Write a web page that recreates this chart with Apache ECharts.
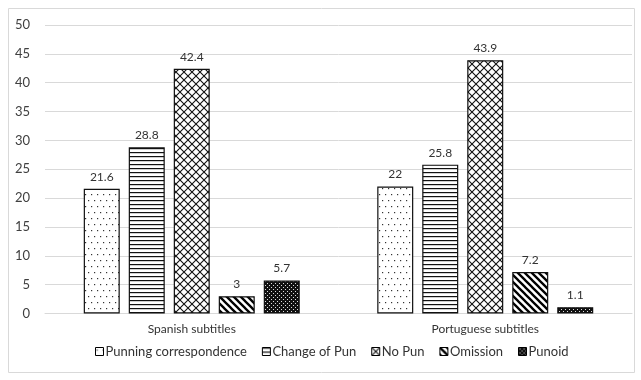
<!DOCTYPE html>
<html><head><meta charset="utf-8">
<script src="https://cdn.jsdelivr.net/npm/echarts@6/dist/echarts.min.js"></script>
<style>html,body{margin:0;padding:0;background:#fff}#c{width:641px;height:380px}</style>
</head><body><div id="c"></div>
<script>
const categories = ['Spanish subtitles', 'Portuguese subtitles'];
const seriesNames = ['Punning correspondence', 'Change of Pun', 'No Pun', 'Omission', 'Punoid'];
const punningCorrespondence = [21.6, 22];
const changeOfPun = [28.8, 25.8];
const noPun = [42.4, 43.9];
const omission = [3, 7.2];
const punoid = [5.7, 1.1];
const yTicks = { min: 0, max: 50, interval: 5 };

function tile(w, h, draw) {
  const c = document.createElement('canvas');
  c.width = w; c.height = h;
  const g = c.getContext('2d');
  g.fillStyle = '#fff'; g.fillRect(0, 0, w, h);
  draw(g, w, h);
  return { image: c, repeat: 'repeat' };
}
const patterns = [
  tile(6, 12, g => { g.fillStyle = '#333'; g.fillRect(1, 2, 1.2, 1.2); g.fillRect(4, 8, 1.2, 1.2); }),
  tile(4, 4, g => { g.fillStyle = '#111'; g.fillRect(0, 0, 4, 1.2); }),
  tile(8, 8, g => { g.strokeStyle = '#111'; g.lineWidth = 1.1;
    g.beginPath(); g.moveTo(-1, -1); g.lineTo(9, 9); g.moveTo(9, -1); g.lineTo(-1, 9); g.stroke(); }),
  tile(7, 7, g => { g.strokeStyle = '#000'; g.lineWidth = 2.3;
    g.beginPath(); for (let k = -7; k <= 7; k += 7) { g.moveTo(k - 1, -1); g.lineTo(k + 8, 8); } g.stroke(); }),
  tile(4, 4, g => { g.fillStyle = '#111'; g.fillRect(0, 0, 4, 4); g.fillStyle = '#ddd'; g.fillRect(1, 1, 1, 1); g.fillRect(3, 3, 1, 1); })
];
const values = [punningCorrespondence, changeOfPun, noPun, omission, punoid];

const chart = echarts.init(document.getElementById('c'));
chart.setOption({
  animation: false,
  textStyle: { fontFamily: 'Lato, "Open Sans", sans-serif' },
  graphic: [{ type: 'rect', shape: { x: 8.5, y: 8.5, width: 626, height: 364 }, style: { fill: 'none', stroke: '#d9d9d9', lineWidth: 1 }, silent: true }],
  grid: { left: 45, right: 9, top: 25, bottom: 66.5, containLabel: false },
  legend: {
    bottom: 17, left: 90, itemWidth: 8, itemHeight: 8, itemGap: 15, padding: 5,
    icon: 'rect',
    textStyle: { color: '#333', fontSize: 13, padding: [0, 0, 0, -3] },
    itemStyle: { borderColor: '#000', borderWidth: 1 }
  },
  xAxis: {
    type: 'category', data: categories,
    axisLine: { lineStyle: { color: '#d9d9d9' } }, axisTick: { show: false },
    axisLabel: { color: '#333', fontSize: 12, margin: 10 }
  },
  yAxis: {
    type: 'value', min: yTicks.min, max: yTicks.max, interval: yTicks.interval,
    axisLine: { show: false }, axisTick: { show: false },
    axisLabel: { color: '#404040', fontSize: 13, margin: 15 },
    splitLine: { lineStyle: { color: '#d9d9d9' } }
  },
  series: seriesNames.map((name, i) => ({
    name, type: 'bar', data: values[i], barWidth: 36, barGap: '25%',
    itemStyle: { color: patterns[i], borderColor: '#111', borderWidth: 1.2 },
    label: { show: true, position: 'top', distance: 6, color: '#333', fontSize: 12 }
  }))
});
</script></body></html>
